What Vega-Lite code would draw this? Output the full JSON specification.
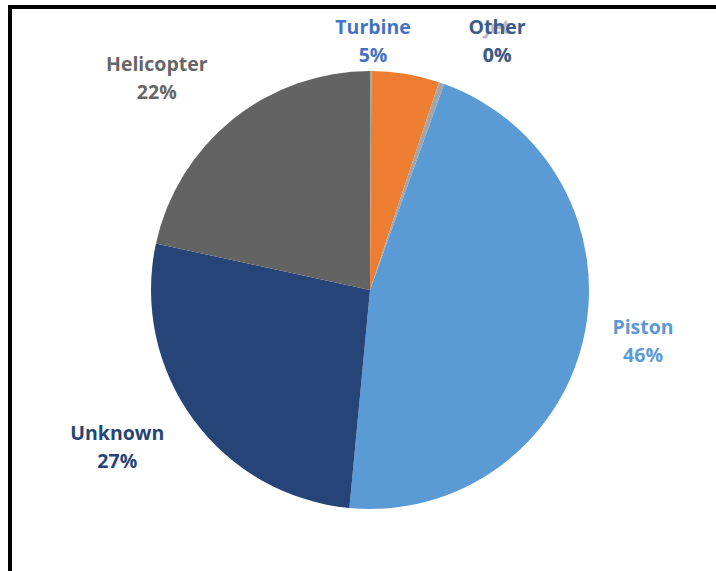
{
  "$schema": "https://vega.github.io/schema/vega-lite/v6.json",
  "width": 720,
  "height": 566,
  "padding": {"left": 10, "top": 7, "right": 0, "bottom": 0},
  "autosize": {"type": "none"},
  "background": "white",
  "view": {"stroke": "black", "strokeWidth": 4},
  "config": {"view": {"stroke": "black", "strokeWidth": 4}},
  "data": {
    "values": [
      {"idx": 1, "cat": "Jet", "value": 0.1, "label": "Jet\n0%"},
      {"idx": 2, "cat": "Turbine", "value": 5.0, "label": "Turbine\n5%"},
      {"idx": 3, "cat": "Other", "value": 0.4, "label": "Other\n0%"},
      {"idx": 4, "cat": "Piston", "value": 46.0, "label": "Piston\n46%"},
      {"idx": 5, "cat": "Unknown", "value": 26.9, "label": "Unknown\n27%"},
      {"idx": 6, "cat": "Helicopter", "value": 21.6, "label": "Helicopter\n22%"}
    ]
  },
  "encoding": {
    "theta": {"field": "value", "type": "quantitative", "stack": true},
    "order": {"field": "idx", "type": "quantitative"}
  },
  "layer": [
    {
      "mark": {"type": "arc", "outerRadius": 219},
      "encoding": {
        "color": {
          "field": "cat",
          "type": "nominal",
          "scale": {
            "domain": ["Jet", "Turbine", "Other", "Piston", "Unknown", "Helicopter"],
            "range": ["#A5A5A5", "#ED7D31", "#A5A5A5", "#5B9BD5", "#264478", "#636363"]
          },
          "legend": null
        }
      }
    },
    {
      "mark": {"type": "text", "radius": 279, "thetaOffset": 0.47, "dy": -14, "font": "Open Sans", "fontWeight": "bold", "fontSize": 19.5, "lineBreak": "\n", "lineHeight": 28, "color": "#B8BCC4", "align": "center", "baseline": "middle"},
      "encoding": {"detail": {"field": "cat"}, "text": {"condition": {"test": "datum.cat === 'Jet'", "field": "label"}, "value": ""}}
    },
    {
      "mark": {"type": "text", "radius": 248, "thetaOffset": -0.151, "dy": -14, "font": "Open Sans", "fontWeight": "bold", "fontSize": 19.5, "lineBreak": "\n", "lineHeight": 28, "color": "#4472C4", "align": "center", "baseline": "middle"},
      "encoding": {"detail": {"field": "cat"}, "text": {"condition": {"test": "datum.cat === 'Turbine'", "field": "label"}, "value": ""}}
    },
    {
      "mark": {"type": "text", "radius": 279, "thetaOffset": 0.14, "dy": -14, "font": "Open Sans", "fontWeight": "bold", "fontSize": 19.5, "lineBreak": "\n", "lineHeight": 28, "color": "#3A5A8C", "align": "center", "baseline": "middle"},
      "encoding": {"detail": {"field": "cat"}, "text": {"condition": {"test": "datum.cat === 'Other'", "field": "label"}, "value": ""}}
    },
    {
      "mark": {"type": "text", "radius": 278, "thetaOffset": -0.031, "dy": -14, "font": "Open Sans", "fontWeight": "bold", "fontSize": 19.5, "lineBreak": "\n", "lineHeight": 28, "color": "#5B9BD5", "align": "center", "baseline": "middle"},
      "encoding": {"detail": {"field": "cat"}, "text": {"condition": {"test": "datum.cat === 'Piston'", "field": "label"}, "value": ""}}
    },
    {
      "mark": {"type": "text", "radius": 298, "thetaOffset": 0.073, "dy": -14, "font": "Open Sans", "fontWeight": "bold", "fontSize": 19.5, "lineBreak": "\n", "lineHeight": 28, "color": "#264478", "align": "center", "baseline": "middle"},
      "encoding": {"detail": {"field": "cat"}, "text": {"condition": {"test": "datum.cat === 'Unknown'", "field": "label"}, "value": ""}}
    },
    {
      "mark": {"type": "text", "radius": 300, "thetaOffset": -0.112, "dy": -14, "font": "Open Sans", "fontWeight": "bold", "fontSize": 19.5, "lineBreak": "\n", "lineHeight": 28, "color": "#666666", "align": "center", "baseline": "middle"},
      "encoding": {"detail": {"field": "cat"}, "text": {"condition": {"test": "datum.cat === 'Helicopter'", "field": "label"}, "value": ""}}
    }
  ]
}
